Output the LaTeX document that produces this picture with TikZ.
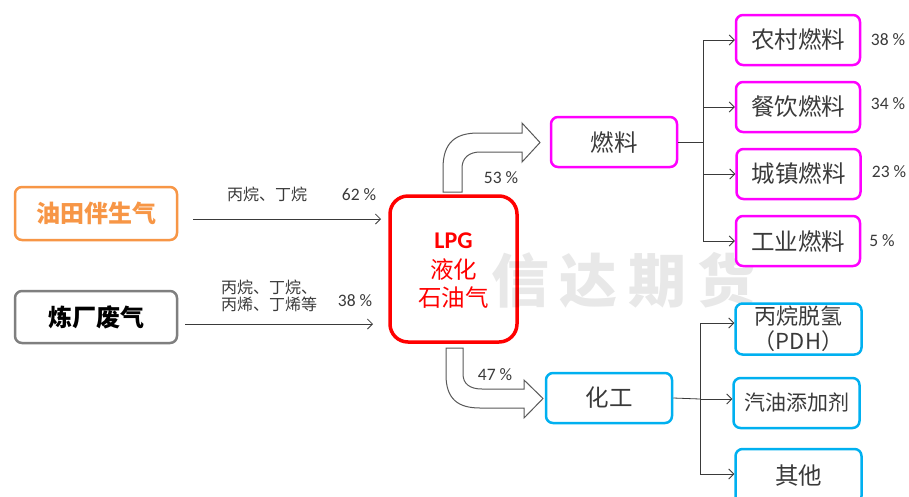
\documentclass[tikz,border=0pt]{standalone}
\usepackage{fontspec}
\setmainfont{Carlito}
\newfontfamily\cjk{Noto Sans CJK SC}
\usetikzlibrary{arrows.meta}
\definecolor{orangeC}{HTML}{F79646}
\definecolor{grayC}{HTML}{7F7F7F}
\definecolor{magC}{HTML}{FF00FF}
\definecolor{cyanC}{HTML}{00B0F0}
\definecolor{txtC}{HTML}{3A3A3A}
\tikzset{
  box/.style={draw, rounded corners=7pt, line width=2.5pt, fill=white, minimum height=50pt, inner sep=0pt, text=txtC, font=\cjk\fontsize{23.5}{26}\selectfont},
  fuelbox/.style={box, draw=magC, minimum width=124pt},
  chembox/.style={box, draw=cyanC, minimum width=126pt},
  lbl/.style={text=txtC, font=\cjk\fontsize{16}{17}\selectfont, inner sep=0pt, align=center},
  pct/.style={text=txtC, font=\fontsize{17.5}{19}\selectfont, inner sep=0pt},
  arr/.style={-{Straight Barb[length=5pt,width=10pt]}, line width=0.8pt, draw=txtC},
  ln/.style={line width=0.8pt, draw=txtC},
  blockarr/.style={draw=black!65, line width=1pt, fill=white}
}
\begin{document}
\begin{tikzpicture}[x=1pt,y=-1pt]
\useasboundingbox (0,0) rectangle (909,496);
\fill[white] (0,0) rectangle (909,496);

% sources
\node[box, draw=orangeC, text=orangeC, minimum width=162pt, minimum height=53pt, font=\cjk\bfseries\fontsize{24}{26}\selectfont] (oil) at (96,213.5) {油田伴生气};
\node[box, draw=grayC, text=black, minimum width=162pt, minimum height=52pt, font=\cjk\bfseries\fontsize{24}{26}\selectfont] (ref) at (96,317) {炼厂废气};

% LPG
\node[draw=red, line width=3.5pt, rounded corners=18pt, fill=white, minimum width=127pt, minimum height=146pt, inner sep=0pt] (lpg) at (453.5,269) {};
\node[text=red, font=\bfseries\fontsize{24}{26}\selectfont, inner sep=0pt] (lpgt) at (453.5,241) {LPG};
\node[text=red, font=\cjk\fontsize{23.5}{26}\selectfont, inner sep=0pt] (lpg2) at (453.5,270) {液化};
\node[text=red, font=\cjk\fontsize{23.5}{26}\selectfont, inner sep=0pt] (lpg3) at (453.5,298) {石油气};

% watermark (above LPG box, below right-hand boxes)
\node[text=black, text opacity=0.09, font=\cjk\bfseries\fontsize{58}{60}\selectfont, inner sep=0pt] (wm) at (623.5,280) {信\hspace{11pt}达\hspace{11pt}期\hspace{11pt}货};

% input arrows
\coordinate (a1s) at (193,219);
\coordinate (a1e) at (381,219);
\draw[arr] (a1s) -- (a1e);
\coordinate (a2s) at (185,324);
\coordinate (a2e) at (373,324);
\draw[arr] (a2s) -- (a2e);
\node[lbl] (l1) at (267,194) {丙烷、丁烷};
\node[pct] (p1) at (359,195) {62 \%};
\node[lbl, align=left] (l2) at (269,296) {丙烷、丁烷、\\丙烯、丁烯等};
\node[pct] (p2) at (355,301) {38 \%};

% block arrows
\draw[blockarr] (443,192) -- (443,168) .. controls (443,143) and (455,133) .. (478,133) -- (522,133) -- (522,123) -- (540,142.5) -- (522,162) -- (522,152) -- (480,152) .. controls (469,152) and (462,158) .. (462,168) -- (462,192) -- cycle;
\draw[blockarr] (446,348) -- (446,375) .. controls (446,399) and (458,408) .. (480,408) -- (524,408) -- (524,418) -- (543,398.5) -- (524,380) -- (524,389) -- (482,389) .. controls (470,389) and (463,384) .. (463,374) -- (463,348) -- cycle;
\node[pct] (p53) at (501,178) {53 \%};
\node[pct] (p47) at (495,375) {47 \%};

% mid boxes
\node[box, draw=magC, minimum width=126pt] (fuel) at (614,142) {燃料};
\node[box, draw=cyanC, minimum width=126pt] (chem) at (609,398) {化工};

% fuel children
\node[fuelbox] (f1) at (798,40) {农村燃料};
\node[fuelbox] (f2) at (798,107) {餐饮燃料};
\node[fuelbox] (f3) at (798.5,174) {城镇燃料};
\node[fuelbox] (f4) at (798,241) {工业燃料};
\node[pct] (pf1) at (888,40) {38 \%};
\node[pct] (pf2) at (888,104) {34 \%};
\node[pct] (pf3) at (889,172) {23 \%};
\node[pct] (pf4) at (882,241) {5 \%};
\coordinate (fj) at (703,142);
\draw[ln] (fuel.east) -- (fj);
\draw[ln] (703,40) -- (703,241);
\draw[arr] (703,40) -- (f1.west);
\draw[arr] (703,107) -- (f2.west);
\draw[arr] (703,174) -- (f3.west);
\draw[arr] (703,241) -- (f4.west);

% chem children
\node[chembox, minimum height=51pt, align=center, font=\cjk\fontsize{22}{25}\selectfont] (c1) at (798.5,329) {丙烷脱氢\\（PDH）};
\node[chembox, font=\cjk\fontsize{21}{24}\selectfont] (c2) at (796.5,403) {汽油添加剂};
\node[chembox, minimum height=54pt] (c3) at (798.5,476) {其他};
\coordinate (cj) at (700,399);
\draw[ln] (chem.east) -- (cj);
\draw[ln] (700,323) -- (700,474);
\draw[arr] (700,323) -- (c1.west |- 0,323);
\draw[arr] (700,399) -- (c2.west |- 0,399);
\draw[arr] (700,474) -- (c3.west |- 0,474);
\end{tikzpicture}
\end{document}
